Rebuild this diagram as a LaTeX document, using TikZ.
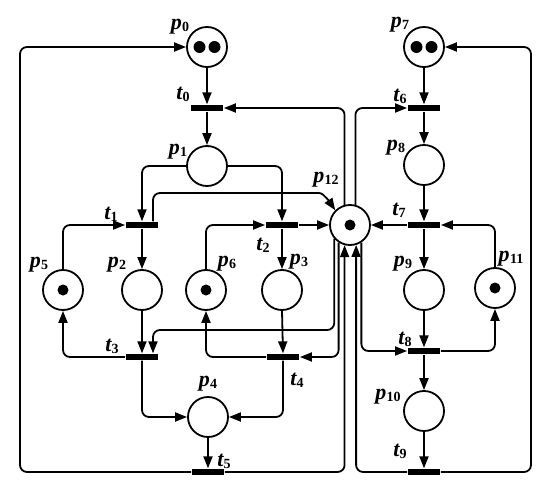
\documentclass[tikz,border=0pt]{standalone}
\usepackage{fontspec}
\setmainfont{Liberation Serif}
\usetikzlibrary{arrows.meta}
\newcommand\lab[2]{{\fontsize{22}{22}\selectfont\bfseries\itshape #1}\kern0.3pt\raisebox{-2pt}{\fontsize{14}{14}\selectfont\bfseries #2}}
\begin{document}
\begin{tikzpicture}[x=1pt,y=-1pt,line width=1.8pt,
  >={Triangle[length=12pt,width=9pt]},
  place/.style={circle,draw,minimum size=40pt,inner sep=0pt,line width=1.8pt},
  trans/.style={rectangle,fill=black,minimum width=32pt,minimum height=5.5pt,inner sep=0pt},
  arc/.style={->,rounded corners=7pt},
  lbl/.style={inner sep=0pt}]
\useasboundingbox (0,0) rectangle (550,490);
% places and transitions
\node[place] (p0) at (207,47) {};
\node[trans] (t0) at (207,108) {};
\node[place] (p1) at (207,166) {};
\node[trans] (t1) at (142,225) {};
\node[trans] (t2) at (282,225) {};
\node[place] (p12) at (350,225) {};
\node[place] (p5) at (63,290) {};
\node[place] (p2) at (142,290) {};
\node[place] (p6) at (206,290) {};
\node[place] (p3) at (282,290) {};
\node[trans] (t3) at (142,357) {};
\node[trans] (t4) at (283,357) {};
\node[place] (p4) at (208,417) {};
\node[trans] (t5) at (208,472) {};
\node[place] (p7) at (424,47) {};
\node[trans] (t6) at (424,108) {};
\node[place] (p8) at (424,165) {};
\node[trans] (t7) at (424,225) {};
\node[place] (p9) at (424,290) {};
\node[place] (p11) at (495,288) {};
\node[trans] (t8) at (424,351) {};
\node[place] (p10) at (424,411) {};
\node[trans] (t9) at (424,472) {};
% tokens
\fill ([xshift=-7.5pt]p0.center) circle[radius=6pt];
\fill ([xshift=7.5pt]p0.center) circle[radius=6pt];
\fill ([xshift=-7.5pt]p7.center) circle[radius=6pt];
\fill ([xshift=7.5pt]p7.center) circle[radius=6pt];
\fill (p12.center) circle[radius=5.5pt];
\fill (p5.center) circle[radius=5.5pt];
\fill (p6.center) circle[radius=5.5pt];
\fill (p11.center) circle[radius=5.5pt];
% helper coordinates
\coordinate (fl) at (20,260);
\coordinate (fr) at (531,260);
\coordinate (h1) at (0,330);
\coordinate (k) at (312,193);
\coordinate (t1b) at ([xshift=11pt]t1.north);
\coordinate (t3b) at ([xshift=11pt]t3.north);
% left net
\draw[arc] (p0.south) -- (t0.north);
\draw[arc] (t0.south) -- (p1.north);
\draw[arc] (p1.west) -| (t1.north);
\draw[arc] (p1.east) -| (t2.north);
\draw[arc] (p5.north) |- (t1.west);
\draw[arc] (p6.north) |- (t2.west);
\draw[arc] (t1.south) -- (p2.north);
\draw[arc] (t2.south) -- (p3.north);
\draw[arc] (p2.south) -- (t3.north);
\draw[arc] (p3.south) -- (t4.north);
\draw[arc] (t1b) |- (k) .. controls (324,193) and (331,204) .. (p12.135);
\draw[arc] (t2.east) -- (p12.west);
\draw[arc] (p12.105) |- (t0.east);
\draw[arc] (p12.221) |- (h1 -| t3b) -- (t3b);
\draw[arc] (p12.237) |- (t4.east);
\draw[arc] (t3.west) -| (p5.south);
\draw[arc] (t4.west) -| (p6.south);
\draw[arc] (t3.south) |- (p4.west);
\draw[arc] (t4.south) |- (p4.east);
\draw[arc] (p4.south) -- (t5.north);
\draw[arc] (t5.west) -| (fl) |- (p0.west);
\draw[arc] (t5.east) -| (p12.255);
% right net
\draw[arc] (p7.south) -- (t6.north);
\draw[arc] (t6.south) -- (p8.north);
\draw[arc] (p8.south) -- (t7.north);
\draw[arc] (t7.south) -- (p9.north);
\draw[arc] (p9.south) -- (t8.north);
\draw[arc] (t8.south) -- (p10.north);
\draw[arc] (p10.south) -- (t9.north);
\draw[arc] (p12.75) |- (t6.west);
\draw[arc] (t7.west) -- (p12.east);
\draw[arc] (p11.north) |- (t7.east);
\draw[arc] (t8.east) -| (p11.south);
\draw[arc] (p12.303) |- (t8.west);
\draw[arc] (t9.west) -| (p12.287);
\draw[arc] (t9.east) -| (fr) |- (p7.east);
% labels
\node[lbl] (lp0) at (180,27) {\lab{p}{0}};
\node[lbl] (lt0) at (183,94) {\lab{t}{0}};
\node[lbl] (lp1) at (178,152) {\lab{p}{1}};
\node[lbl] (lt1) at (111,214) {\lab{t}{1}};
\node[lbl] (lp12) at (326,180) {\lab{p}{12}};
\node[lbl] (lt2) at (263,245) {\lab{t}{2}};
\node[lbl] (lp5) at (39,265) {\lab{p}{5}};
\node[lbl] (lp2) at (117,265) {\lab{p}{2}};
\node[lbl] (lp6) at (227,264) {\lab{p}{6}};
\node[lbl] (lp3) at (299,262) {\lab{p}{3}};
\node[lbl] (lt3) at (112,346) {\lab{t}{3}};
\node[lbl] (lt4) at (297,380) {\lab{t}{4}};
\node[lbl] (lp4) at (208,384) {\lab{p}{4}};
\node[lbl] (lt5) at (224,461) {\lab{t}{5}};
\node[lbl] (lp7) at (400,25) {\lab{p}{7}};
\node[lbl] (lt6) at (400,96) {\lab{t}{6}};
\node[lbl] (lp8) at (396,148) {\lab{p}{8}};
\node[lbl] (lt7) at (399,210) {\lab{t}{7}};
\node[lbl] (lp9) at (403,264) {\lab{p}{9}};
\node[lbl] (lp11) at (511,259) {\lab{p}{11}};
\node[lbl] (lt8) at (405,339) {\lab{t}{8}};
\node[lbl] (lp10) at (388,397) {\lab{p}{10}};
\node[lbl] (lt9) at (400,451) {\lab{t}{9}};
\end{tikzpicture}
\end{document}
